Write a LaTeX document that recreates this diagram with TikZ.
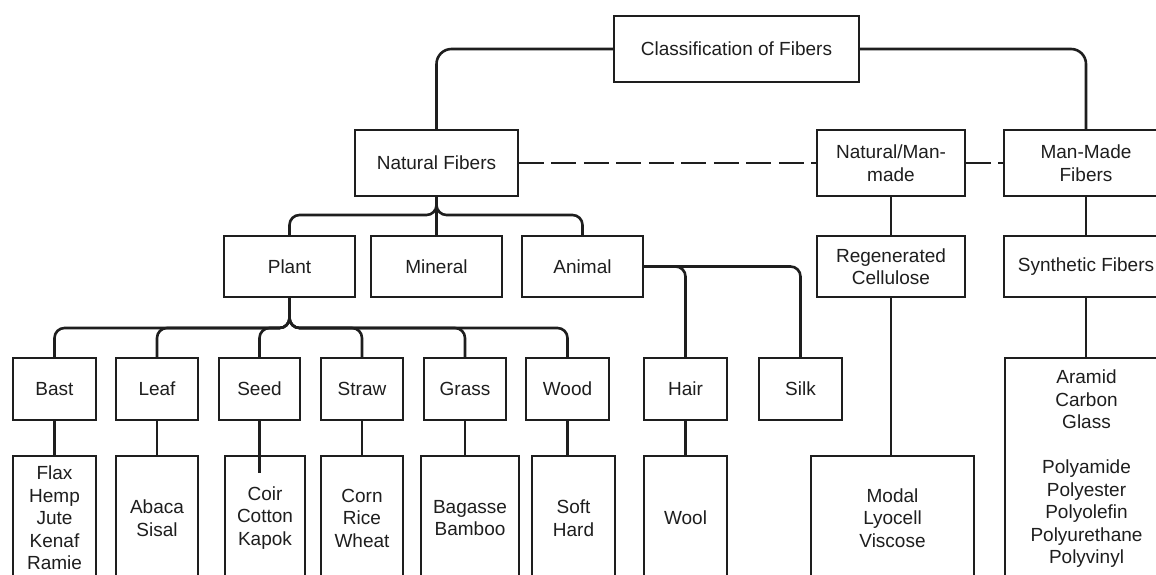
\documentclass[tikz,border=0pt]{standalone}
\usepackage{fontspec}
\setmainfont{Liberation Sans}
\definecolor{ink}{HTML}{1E1E1E}
\begin{document}
\begin{tikzpicture}[x=1pt,y=-1pt,
  box/.style={draw=ink,line width=1.9pt,rectangle,inner sep=0pt,align=center,
    text=ink,font=\fontsize{19}{22.5}\selectfont},
  conn/.style={draw=ink,line width=2.6pt,rounded corners=10pt},
  dashconn/.style={draw=ink,line width=2.8pt,dash pattern=on 25pt off 7.5pt}]
\useasboundingbox (0,0) rectangle (1156,574);
\clip (0,0) rectangle (1156,574);
\fill[white] (0,0) rectangle (1156,574);

% level 0/1
\node[box,minimum width=245pt,minimum height=66pt] (cls) at (736.5,49) {Classification of Fibers};
\node[box,minimum width=163pt,minimum height=66pt] (nat) at (436.5,163) {Natural Fibers};
\node[box,minimum width=148pt,minimum height=66pt] (nmm) at (891,163) {Natural/Man-\\made};
\node[box,minimum width=164pt,minimum height=66pt] (mmf) at (1086,163) {Man-Made\\Fibers};

% level 2
\node[box,minimum width=131pt,minimum height=61pt] (plant) at (289.5,266.5) {Plant};
\node[box,minimum width=131pt,minimum height=61pt] (mineral) at (436.5,266.5) {Mineral};
\node[box,minimum width=121pt,minimum height=61pt] (animal) at (582.5,266.5) {Animal};
\node[box,minimum width=148pt,minimum height=61pt] (regen) at (891,266.5) {Regenerated\\Cellulose};
\node[box,minimum width=164pt,minimum height=61pt] (synth) at (1086,266.5) {Synthetic Fibers};

% level 3
\node[box,minimum width=83pt,minimum height=62pt] (bast) at (54.5,389) {Bast};
\node[box,minimum width=82pt,minimum height=62pt] (leaf) at (157,389) {Leaf};
\node[box,minimum width=81pt,minimum height=62pt] (seed) at (259.5,389) {Seed};
\node[box,minimum width=82pt,minimum height=62pt] (straw) at (362,389) {Straw};
\node[box,minimum width=82pt,minimum height=62pt] (grass) at (465,389) {Grass};
\node[box,minimum width=83pt,minimum height=62pt] (wood) at (567.5,389) {Wood};
\node[box,minimum width=83pt,minimum height=62pt] (hair) at (685.5,389) {Hair};
\node[box,minimum width=83pt,minimum height=62pt] (silk) at (800.5,389) {Silk};

% level 4 (details)
\node[box,minimum width=83pt,minimum height=124pt] (bastd) at (54.5,518) {Flax\\Hemp\\Jute\\Kenaf\\Ramie};
\node[box,minimum width=82pt,minimum height=124pt] (leafd) at (157,518) {Abaca\\Sisal};
\node[box,minimum width=80pt,minimum height=124pt] (seedd) at (265,518) {Coir\\Cotton\\Kapok};
\node[box,minimum width=82pt,minimum height=124pt] (strawd) at (362,518) {Corn\\Rice\\Wheat};
\node[box,minimum width=98pt,minimum height=124pt] (grassd) at (470,518) {Bagasse\\Bamboo};
\node[box,minimum width=83pt,minimum height=124pt] (woodd) at (573.5,518) {Soft\\Hard};
\node[box,minimum width=83pt,minimum height=124pt] (wool) at (685.5,518) {Wool};
\node[box,minimum width=163pt,minimum height=124pt] (modal) at (892.5,518) {Modal\\Lyocell\\Viscose};
\node[box,minimum width=163pt,minimum height=222pt] (synd) at (1086.5,469) {Aramid\\Carbon\\Glass\\[22.5pt]Polyamide\\Polyester\\Polyolefin\\Polyurethane\\Polyvinyl};

% junction coordinates
\coordinate (natj) at (436.5,215);
\coordinate (plj) at (289.5,328);

% connectors
\draw[conn,rounded corners=15pt] (cls.west) -| (nat.north);
\draw[conn,rounded corners=15pt] (cls.east) -| (mmf.north);
\draw[dashconn] (nat.east) -- (nmm.west);
\draw[dashconn] (nmm.east) -- (mmf.west);

\draw[conn] (nat.south) -- (natj) -| (plant.north);
\draw[conn] (nat.south) -- (natj) -| (animal.north);
\draw[conn] (nat.south) -- (mineral.north);

\foreach \c in {bast,leaf,seed,straw,grass,wood}
  \draw[conn] (plant.south) -- (plj) -| (\c.north);

\draw[conn] (animal.east) -| (hair.north);
\draw[conn] (animal.east) -| (silk.north);

\draw[conn] (nmm.south) -- (regen.north);
\draw[conn] (mmf.south) -- (synth.north);
\draw[conn] (regen.south) -- (regen.south |- modal.north);
\draw[conn] (synth.south) -- (synth.south |- synd.north);

\draw[conn] (bast.south) -- (bast.south |- bastd.north);
\draw[conn] (leaf.south) -- (leaf.south |- leafd.north);
\draw[conn] (seed.south) -- ++(0,52);
\draw[conn] (straw.south) -- (straw.south |- strawd.north);
\draw[conn] (grass.south) -- (grass.south |- grassd.north);
\draw[conn] (wood.south) -- (wood.south |- woodd.north);
\draw[conn] (hair.south) -- (wool.north);
\end{tikzpicture}
\end{document}
